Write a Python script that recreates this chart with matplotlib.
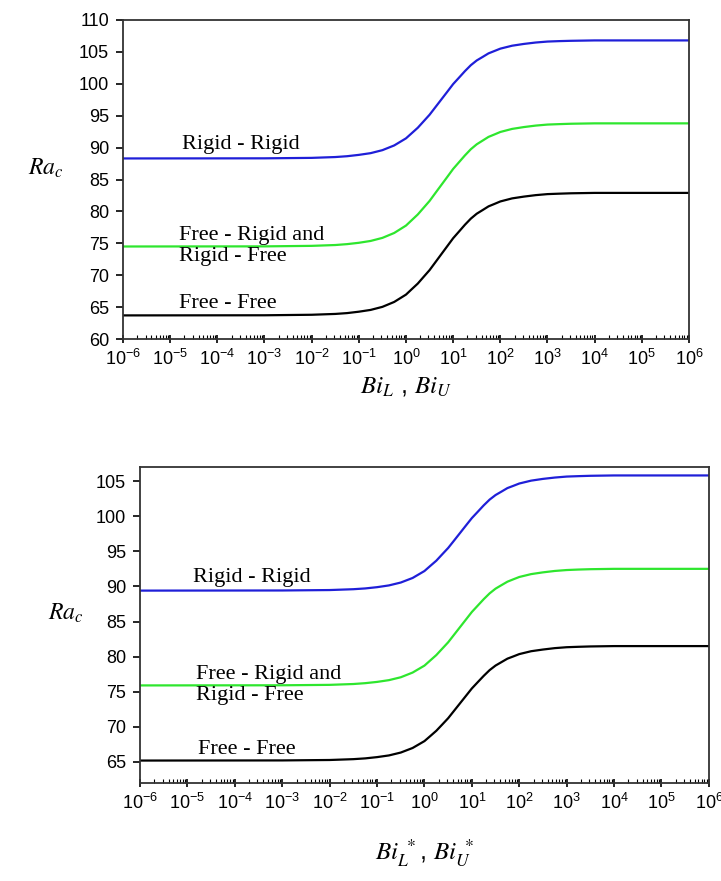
import numpy as np
import matplotlib
matplotlib.use("Agg")
import matplotlib.pyplot as plt
from matplotlib.ticker import LogLocator, FixedLocator, NullFormatter

plt.rcParams["font.family"] = "Liberation Sans"
plt.rcParams["font.size"] = 12

# sample points (log10 of the Biot number)
log_bi = [-6, -3, -2, -1.5, -1.25, -1, -0.75, -0.5, -0.25, 0, 0.125, 0.25, 0.375, 0.5,
          0.625, 0.75, 0.875, 1, 1.125, 1.25, 1.375, 1.5, 1.625, 1.75, 1.875, 2, 2.25,
          2.5, 2.75, 3, 3.25, 3.5, 4, 6]

# top panel: Bi_L, Bi_U
top_rr = [88.3, 88.32, 88.39, 88.52, 88.65, 88.86, 89.13, 89.6, 90.34, 91.45, 92.28,
          93.11, 94.13, 95.15, 96.35, 97.55, 98.75, 99.96, 100.97, 101.99, 102.92, 103.66,
          104.21, 104.77, 105.14, 105.51, 105.97, 106.25, 106.47, 106.62, 106.69, 106.74,
          106.8, 106.8]
top_fr = [74.5, 74.52, 74.6, 74.73, 74.87, 75.08, 75.37, 75.85, 76.62, 77.78, 78.65,
          79.52, 80.58, 81.64, 82.9, 84.15, 85.4, 86.66, 87.72, 88.78, 89.75, 90.52, 91.1,
          91.68, 92.06, 92.45, 92.93, 93.22, 93.45, 93.61, 93.68, 93.74, 93.8, 93.8]
top_ff = [63.7, 63.72, 63.8, 63.93, 64.06, 64.28, 64.56, 65.04, 65.81, 66.96, 67.83,
          68.69, 69.75, 70.8, 72.05, 73.3, 74.55, 75.8, 76.85, 77.91, 78.87, 79.64, 80.21,
          80.79, 81.17, 81.56, 82.04, 82.32, 82.55, 82.71, 82.78, 82.84, 82.9, 82.9]

# bottom panel: Bi_L*, Bi_U*
bot_rr = [89.4, 89.42, 89.48, 89.6, 89.71, 89.89, 90.14, 90.55, 91.2, 92.19, 92.93,
          93.66, 94.57, 95.47, 96.53, 97.6, 98.67, 99.73, 100.63, 101.54, 102.36, 103.01,
          103.5, 104.0, 104.32, 104.65, 105.06, 105.31, 105.5, 105.64, 105.7, 105.75,
          105.8, 105.8]
bot_fr = [75.9, 75.92, 75.98, 76.1, 76.22, 76.4, 76.65, 77.06, 77.73, 78.72, 79.47,
          80.22, 81.13, 82.04, 83.12, 84.2, 85.28, 86.36, 87.27, 88.18, 89.01, 89.68,
          90.18, 90.67, 91.01, 91.34, 91.75, 92.0, 92.2, 92.33, 92.4, 92.45, 92.5, 92.5]
bot_ff = [65.2, 65.22, 65.28, 65.4, 65.51, 65.69, 65.93, 66.34, 66.99, 67.97, 68.7,
          69.44, 70.33, 71.23, 72.29, 73.35, 74.41, 75.47, 76.37, 77.26, 78.08, 78.73,
          79.22, 79.71, 80.03, 80.36, 80.77, 81.01, 81.21, 81.34, 81.4, 81.45, 81.5, 81.5]

bi = 10.0 ** np.array(log_bi)
decades = list(range(-6, 7))

blue = "#1f1fd8"
green = "#2ee62e"


def style_axes(ax, ylim, yticks):
    ax.set_xscale("log")
    ax.set_xlim(1e-6, 1e6)
    ax.set_ylim(*ylim)
    ax.set_yticks(yticks)
    ax.xaxis.set_major_locator(FixedLocator([10.0 ** d for d in decades]))
    ax.set_xticklabels([r"$\mathregular{10^{%d}}$" % d for d in decades])
    ax.xaxis.set_minor_locator(LogLocator(base=10, subs=np.arange(2, 10), numticks=100))
    ax.xaxis.set_minor_formatter(NullFormatter())
    ax.tick_params(axis="x", which="major", direction="inout", length=6, width=1.2,
                   labelsize=13, top=False, pad=4)
    ax.tick_params(axis="x", which="minor", direction="in", length=3, width=0.8, top=False)
    ax.tick_params(axis="y", which="major", direction="out", length=5, width=1.2,
                   labelsize=13, right=False, pad=5)
    for s in ax.spines.values():
        s.set_linewidth(1.3)
        s.set_color("#333333")


fig = plt.figure(figsize=(7.21, 8.81), dpi=100, facecolor="w")

serif = "Liberation Serif"
tsize = 16

# ---- top panel
ax1 = fig.add_axes([0.1706, 0.6152, 0.785, 0.3621])
ax1.plot(bi, top_rr, color=blue, lw=1.6)
ax1.plot(bi, top_fr, color=green, lw=1.6)
ax1.plot(bi, top_ff, color="black", lw=1.6)
style_axes(ax1, (60, 110), np.arange(60, 111, 5))
ax1.text(10 ** -4.75, 90.5, "Rigid - Rigid", family=serif, fontsize=tsize, va="center")
ax1.text(10 ** -4.82, 76.3, "Free - Rigid and", family=serif, fontsize=tsize, va="center")
ax1.text(10 ** -4.82, 72.9, "Rigid - Free", family=serif, fontsize=tsize, va="center")
ax1.text(10 ** -4.82, 65.6, "Free - Free", family=serif, fontsize=tsize, va="center")
ax1.set_ylabel(r"$Ra_c$", rotation=0, fontsize=17, math_fontfamily="stix", labelpad=24)
ax1.set_xlabel(r"$Bi_L$ , $Bi_U$", fontsize=18, math_fontfamily="stix", labelpad=4)

# ---- bottom panel
ax2 = fig.add_axes([0.1942, 0.1112, 0.789, 0.3587])
ax2.plot(bi, bot_rr, color=blue, lw=1.6)
ax2.plot(bi, bot_fr, color=green, lw=1.6)
ax2.plot(bi, bot_ff, color="black", lw=1.6)
style_axes(ax2, (62, 107), np.arange(65, 106, 5))
ax2.text(10 ** -4.89, 91.2, "Rigid - Rigid", family=serif, fontsize=tsize, va="center")
ax2.text(10 ** -4.82, 77.5, "Free - Rigid and", family=serif, fontsize=tsize, va="center")
ax2.text(10 ** -4.82, 74.5, "Rigid - Free", family=serif, fontsize=tsize, va="center")
ax2.text(10 ** -4.77, 66.8, "Free - Free", family=serif, fontsize=tsize, va="center")
ax2.set_ylabel(r"$Ra_c$", rotation=0, fontsize=17, math_fontfamily="stix", labelpad=22)
ax2.set_xlabel(r"$Bi_L^{\ *}$, $Bi_U^{\ *}$", fontsize=18, math_fontfamily="stix",
               labelpad=18)

fig.savefig("out.png", dpi=100)
